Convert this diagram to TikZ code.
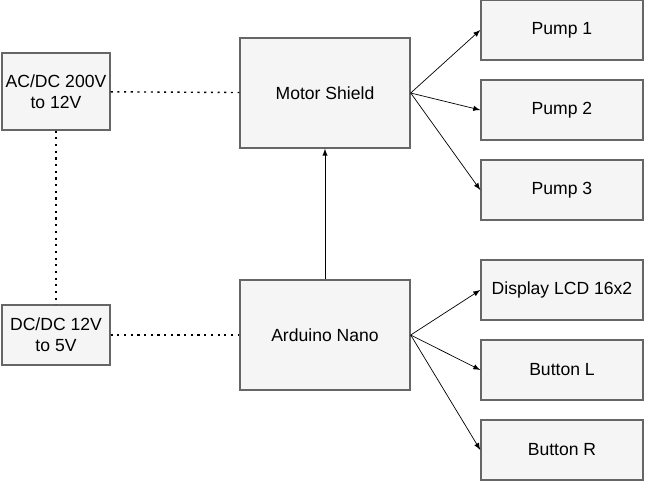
\documentclass[tikz,border=0pt]{standalone}
\usepackage{fontspec}
\setmainfont{Liberation Sans}
\usetikzlibrary{arrows, positioning}
\begin{document}
\begin{tikzpicture}[x=0.02cm, y=-0.02cm, font=\normalsize, >=latex, thick,
blk/.style={draw=black!60, fill=black!4, align=center, inner sep=0pt},
link/.style={->, thin},
wire/.style={thick, dash pattern=on 1.2pt off 2.6pt}
]
    \useasboundingbox (0, 0) rectangle (647, 484);

    % Power supplies
    \node (acdc) [blk, minimum width=108*0.02cm, minimum height=77*0.02cm] at (56, 91.5) {AC/DC 200V\\to 12V};
    \node (dcdc) [blk, minimum width=108*0.02cm, minimum height=60*0.02cm] at (56, 335) {DC/DC 12V\\to 5V};

    % Main boards
    \node (shield) [blk, minimum width=170*0.02cm, minimum height=110*0.02cm] at (325, 93) {Motor Shield};
    \node (nano) [blk, minimum width=170*0.02cm, minimum height=110*0.02cm] at (325, 335) {Arduino Nano};

    % Outputs
    \foreach \name/\txt/\y in {p1/Pump 1/30, p2/Pump 2/110, p3/Pump 3/190,
                               lcd/Display LCD 16x2/290, bl/Button L/370, br/Button R/450}
        \node (\name) [blk, minimum width=162*0.02cm, minimum height=60*0.02cm] at (562, \y) {\txt};

    % Connections
    \draw [wire] (acdc) -- (shield);
    \draw [wire] (dcdc) -- (nano);
    \draw [wire] (acdc) -- (dcdc);
    \draw [link] (nano) -- (shield);
    \foreach \p in {p1, p2, p3}
        \draw [link] (shield.east) -- (\p.west);
    \foreach \p in {lcd, bl, br}
        \draw [link] (nano.east) -- (\p.west);
\end{tikzpicture}
\end{document}
